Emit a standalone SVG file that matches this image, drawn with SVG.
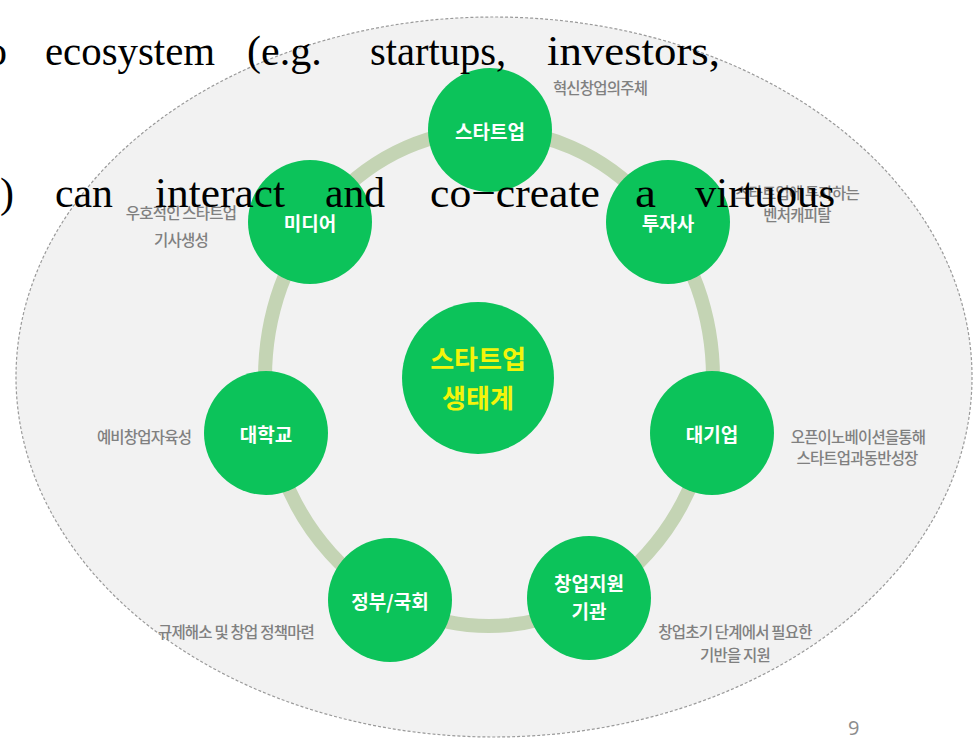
<svg xmlns="http://www.w3.org/2000/svg" width="974" height="743" viewBox="0 0 974 743">
<style>
.node{fill:#0cc35a}
.nl{font-family:"Noto Sans CJK KR","Noto Sans",sans-serif;font-weight:700;font-size:19px;fill:#ffffff;text-anchor:middle}
.cl{font-family:"Noto Sans CJK KR","Noto Sans",sans-serif;font-weight:700;font-size:26px;fill:#f4f40a;text-anchor:middle}
.ds{font-family:"Noto Sans CJK KR","Noto Sans",sans-serif;font-weight:500;font-size:15.5px;fill:#808080;text-anchor:middle;letter-spacing:-0.8px}
.ov{font-family:"Liberation Serif","Times New Roman",serif;font-size:42px;fill:#000000}
</style>
<rect x="0" y="0" width="974" height="743" fill="#ffffff"/>
<ellipse id="background" cx="494" cy="377" rx="478" ry="360" fill="#f2f2f2" stroke="#9a9a9a" stroke-width="1.2" stroke-dasharray="3 2"/>
<g id="connectors">
<ellipse cx="489" cy="378" rx="224" ry="248" fill="none" stroke="#c4d4b4" stroke-width="14"/>
</g>
<g id="center"><circle class="node" cx="478" cy="378" r="76"/><text class="cl" x="478" y="369">스타트업</text><text class="cl" x="478" y="408">생태계</text></g>
<g id="startup"><circle class="node" cx="490" cy="130" r="62"/><text class="nl" x="490" y="139">스타트업</text></g>
<g id="investor"><circle class="node" cx="668" cy="222" r="62"/><text class="nl" x="668" y="231">투자사</text></g>
<g id="corp"><circle class="node" cx="712" cy="433" r="62"/><text class="nl" x="712" y="442">대기업</text></g>
<g id="support"><circle class="node" cx="589" cy="598" r="62"/><text class="nl" x="589" y="591">창업지원</text><text class="nl" x="589" y="619">기관</text></g>
<g id="gov"><circle class="node" cx="390" cy="600" r="62"/><text class="nl" x="390" y="609">정부/국회</text></g>
<g id="univ"><circle class="node" cx="266" cy="433" r="62"/><text class="nl" x="266" y="442">대학교</text></g>
<g id="media"><circle class="node" cx="310" cy="222" r="62"/><text class="nl" x="310" y="231">미디어</text></g>
<g id="labels">
<text class="ds" x="600" y="94">혁신창업의주체</text>
<text class="ds" x="797" y="199">스타트업에 투자하는</text>
<text class="ds" x="797" y="221">벤처캐피탈</text>
<text class="ds" x="181" y="219">우호적인 스타트업</text>
<text class="ds" x="181" y="246">기사생성</text>
<text class="ds" x="144" y="443">예비창업자육성</text>
<text class="ds" x="858" y="443">오픈이노베이션을통해</text>
<text class="ds" x="857" y="464">스타트업과동반성장</text>
<text class="ds" x="236" y="638">규제해소 및 창업 정책마련</text>
<text class="ds" x="735" y="638">창업초기 단계에서 필요한</text>
<text class="ds" x="735" y="661">기반을 지원</text>
</g>
<g id="overlay">
<text class="ov" x="-14" y="65">o</text>
<text class="ov" x="45" y="65" textLength="170" lengthAdjust="spacingAndGlyphs">ecosystem</text>
<text class="ov" x="247" y="65">(e.g.</text>
<text class="ov" x="370" y="65" textLength="136" lengthAdjust="spacingAndGlyphs">startups,</text>
<text class="ov" x="547" y="65" textLength="173" lengthAdjust="spacingAndGlyphs">investors,</text>
<text class="ov" x="0" y="207">)</text>
<text class="ov" x="55" y="207" textLength="58" lengthAdjust="spacingAndGlyphs">can</text>
<text class="ov" x="155" y="207" textLength="130" lengthAdjust="spacingAndGlyphs">interact</text>
<text class="ov" x="325" y="207" textLength="60" lengthAdjust="spacingAndGlyphs">and</text>
<text class="ov" x="430" y="207" textLength="170" lengthAdjust="spacingAndGlyphs">co−create</text>
<text class="ov" x="635" y="207" textLength="21" lengthAdjust="spacingAndGlyphs">a</text>
<text class="ov" x="695" y="207" textLength="140" lengthAdjust="spacingAndGlyphs">virtuous</text>
</g>
<text x="848" y="735" font-family="'Open Sans','DejaVu Sans',sans-serif" font-size="20" fill="#8c8c8c">9</text>
</svg>
